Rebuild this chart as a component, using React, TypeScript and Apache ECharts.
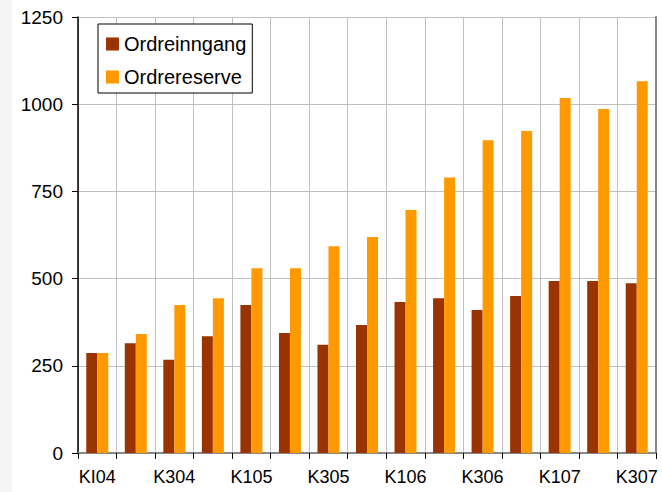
import React, { useEffect, useRef } from "react";
import * as echarts from "echarts";

const categories = [
  "KI04", "K204", "K304", "K404", "K105", "K205", "K305", "K405",
  "K106", "K206", "K306", "K406", "K107", "K207", "K307",
];
const ordreinngang = [287, 315, 267, 335, 424, 344, 310, 367, 433, 444, 410, 450, 493, 493, 487];
const ordrereserve = [287, 341, 424, 444, 530, 530, 593, 619, 697, 790, 897, 923, 1018, 986, 1066];
const seriesNames = ["Ordreinngang", "Ordrereserve"];
const yTicks = { min: 0, max: 1250, interval: 250 };

const FONT = "'Liberation Sans', Arial, sans-serif";

export default function App() {
  const ref = useRef<HTMLDivElement>(null);
  useEffect(() => {
    if (!ref.current) return;
    const chart = echarts.init(ref.current, undefined, { renderer: "svg" });
    chart.setOption({
      animation: false,
      textStyle: { fontFamily: FONT },
      grid: { left: 78, right: 6, top: 17, bottom: 39, containLabel: false },
      legend: {
        orient: "vertical",
        left: 98,
        top: 24,
        padding: [10, 6, 6, 8],
        itemGap: 13,
        itemWidth: 13,
        itemHeight: 13,
        icon: "rect",
        borderColor: "#000",
        borderWidth: 1,
        backgroundColor: "#fff",
        textStyle: { fontSize: 20, color: "#000", fontFamily: FONT },
        data: seriesNames,
      },
      xAxis: [
        {
          type: "category",
          data: categories,
          boundaryGap: true,
          axisLine: { show: true, lineStyle: { color: "#000", width: 1.5 } },
          axisTick: { show: true, interval: 0, length: 6, lineStyle: { color: "#000" } },
          axisLabel: { interval: 1, fontSize: 18, color: "#000", margin: 15, fontFamily: FONT },
          splitLine: { show: true, interval: 0, lineStyle: { color: "#c0c0c0", width: 1 } },
        },
        {
          type: "category",
          data: categories,
          position: "top",
          axisLine: { show: true, lineStyle: { color: "#888", width: 2 } },
          axisTick: { show: false },
          axisLabel: { show: false },
          splitLine: { show: false },
        },
      ],
      yAxis: [
        {
          type: "value",
          min: yTicks.min,
          max: yTicks.max,
          interval: yTicks.interval,
          axisLine: { show: true, lineStyle: { color: "#000", width: 1.5 } },
          axisTick: { show: true, length: 6, lineStyle: { color: "#000" } },
          axisLabel: {
            fontSize: 19,
            color: "#000",
            margin: 15,
            fontFamily: FONT,
            formatter: (v: number) => String(v),
          },
          splitLine: { show: true, lineStyle: { color: "#c0c0c0", width: 1 } },
        },
        {
          type: "value",
          min: yTicks.min,
          max: yTicks.max,
          interval: yTicks.interval,
          position: "right",
          axisLine: { show: true, lineStyle: { color: "#888", width: 2 } },
          axisTick: { show: false },
          axisLabel: { show: false },
          splitLine: { show: false },
        },
      ],
      series: [
        {
          name: seriesNames[0],
          type: "bar",
          data: ordreinngang,
          barWidth: 11,
          barGap: "0%",
          itemStyle: { color: "#993300" },
        },
        {
          name: seriesNames[1],
          type: "bar",
          data: ordrereserve,
          barWidth: 11,
          barGap: "0%",
          itemStyle: { color: "#ff9900" },
        },
      ],
    });
    return () => chart.dispose();
  }, []);
  return (
    <div
      style={{
        position: "fixed",
        left: 0,
        top: 0,
        width: 662,
        height: 492,
        background: "linear-gradient(to right, #f5f5f5 0px, #f5f5f5 12px, #ffffff 12px)",
      }}
    >
      <div ref={ref} style={{ width: 662, height: 492 }} />
    </div>
  );
}
